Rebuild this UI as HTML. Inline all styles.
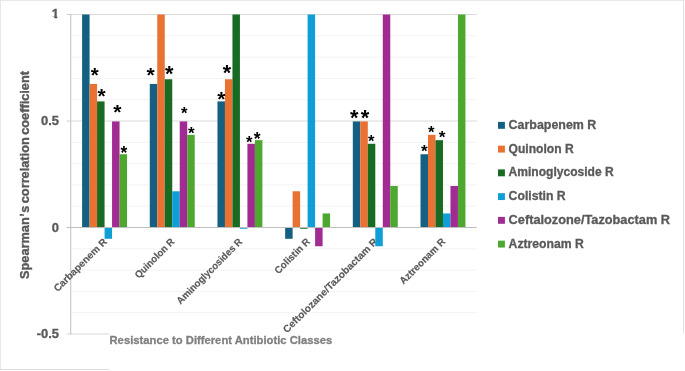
<!DOCTYPE html>
<html lang="en"><head><meta charset="utf-8"><title>Spearman correlation chart</title>
<style>html,body{margin:0;padding:0;background:#fff}body{width:685px;height:371px;overflow:hidden}svg{display:block}text{font-family:"Liberation Sans",Arial,Helvetica,sans-serif;font-weight:bold}</style>
</head><body>
<svg width="685" height="371" viewBox="0 0 685 371">
<rect x="0" y="0" width="685" height="371" fill="#fff"/>
<rect x="0" y="0" width="684" height="1" fill="#e8e8e8"/><rect x="0" y="0" width="1" height="370" fill="#e8e8e8"/><rect x="0" y="369" width="109.5" height="1" fill="#dddddd"/><rect x="683" y="0" width="1" height="333" fill="#e0e0e0"/>
<g>
<line x1="70.7" x2="476.8" y1="35.80" y2="35.80" stroke="#f3f3f3" stroke-width="1"/>
<line x1="70.7" x2="476.8" y1="57.10" y2="57.10" stroke="#f3f3f3" stroke-width="1"/>
<line x1="70.7" x2="476.8" y1="78.40" y2="78.40" stroke="#f3f3f3" stroke-width="1"/>
<line x1="70.7" x2="476.8" y1="99.70" y2="99.70" stroke="#f3f3f3" stroke-width="1"/>
<line x1="70.7" x2="476.8" y1="142.30" y2="142.30" stroke="#f3f3f3" stroke-width="1"/>
<line x1="70.7" x2="476.8" y1="163.60" y2="163.60" stroke="#f3f3f3" stroke-width="1"/>
<line x1="70.7" x2="476.8" y1="184.90" y2="184.90" stroke="#f3f3f3" stroke-width="1"/>
<line x1="70.7" x2="476.8" y1="206.20" y2="206.20" stroke="#f3f3f3" stroke-width="1"/>
<line x1="70.7" x2="476.8" y1="248.80" y2="248.80" stroke="#f3f3f3" stroke-width="1"/>
<line x1="70.7" x2="476.8" y1="270.10" y2="270.10" stroke="#f3f3f3" stroke-width="1"/>
<line x1="70.7" x2="476.8" y1="291.40" y2="291.40" stroke="#f3f3f3" stroke-width="1"/>
<line x1="70.7" x2="476.8" y1="312.70" y2="312.70" stroke="#f3f3f3" stroke-width="1"/>
<line x1="70.7" x2="476.8" y1="14.50" y2="14.50" stroke="#dadada" stroke-width="1"/>
<line x1="66.7" x2="70.7" y1="14.50" y2="14.50" stroke="#d2d2d2" stroke-width="1"/>
<line x1="70.7" x2="476.8" y1="121.00" y2="121.00" stroke="#dadada" stroke-width="1"/>
<line x1="66.7" x2="70.7" y1="121.00" y2="121.00" stroke="#d2d2d2" stroke-width="1"/>
<line x1="70.7" x2="476.8" y1="334.00" y2="334.00" stroke="#dadada" stroke-width="1"/>
<line x1="66.7" x2="70.7" y1="334.00" y2="334.00" stroke="#d2d2d2" stroke-width="1"/>
</g>
<line x1="70.7" x2="70.7" y1="14.00" y2="334.50" stroke="#c8c8c8" stroke-width="1.15"/>
<text transform="translate(107.54 242.40) rotate(-45) scale(1.0 1)" text-anchor="end" font-size="10.0" fill="#595959" stroke="#595959" stroke-width="0.15">Carbapenem R</text>
<text transform="translate(175.22 242.40) rotate(-45) scale(0.96 1)" text-anchor="end" font-size="10.0" fill="#595959" stroke="#595959" stroke-width="0.15">Quinolon R</text>
<text transform="translate(242.90 242.40) rotate(-45) scale(0.95 1)" text-anchor="end" font-size="10.0" fill="#595959" stroke="#595959" stroke-width="0.15">Aminoglycosides R</text>
<text transform="translate(310.58 242.40) rotate(-45) scale(0.97 1)" text-anchor="end" font-size="10.0" fill="#595959" stroke="#595959" stroke-width="0.15">Colistin R</text>
<text transform="translate(378.26 242.40) rotate(-45) scale(1.02 1)" text-anchor="end" font-size="10.0" fill="#595959" stroke="#595959" stroke-width="0.15">Ceftolozane/Tazobactam R</text>
<text transform="translate(445.94 242.40) rotate(-45) scale(0.975 1)" text-anchor="end" font-size="10.0" fill="#595959" stroke="#595959" stroke-width="0.15">Aztreonam R</text>
<g shape-rendering="auto">
<rect x="82.10" y="14.50" width="7.49" height="213.00" fill="#156082"/>
<rect x="89.59" y="83.94" width="7.49" height="143.56" fill="#E97132"/>
<rect x="97.08" y="101.40" width="7.49" height="126.10" fill="#196B24"/>
<rect x="104.57" y="227.50" width="7.49" height="11.29" fill="#0F9ED5"/>
<rect x="112.06" y="121.43" width="7.49" height="106.07" fill="#A02B93"/>
<rect x="119.55" y="154.23" width="7.49" height="73.27" fill="#4EA72E"/>
<rect x="149.78" y="83.94" width="7.49" height="143.56" fill="#156082"/>
<rect x="157.27" y="14.50" width="7.49" height="213.00" fill="#E97132"/>
<rect x="164.76" y="79.25" width="7.49" height="148.25" fill="#196B24"/>
<rect x="172.25" y="191.29" width="7.49" height="36.21" fill="#0F9ED5"/>
<rect x="179.74" y="121.43" width="7.49" height="106.07" fill="#A02B93"/>
<rect x="187.23" y="134.84" width="7.49" height="92.66" fill="#4EA72E"/>
<rect x="217.46" y="101.40" width="7.49" height="126.10" fill="#156082"/>
<rect x="224.95" y="79.25" width="7.49" height="148.25" fill="#E97132"/>
<rect x="232.44" y="14.50" width="7.49" height="213.00" fill="#196B24"/>
<rect x="239.93" y="227.50" width="7.49" height="1.28" fill="#0F9ED5"/>
<rect x="247.42" y="143.79" width="7.49" height="83.71" fill="#A02B93"/>
<rect x="254.91" y="140.17" width="7.49" height="87.33" fill="#4EA72E"/>
<rect x="285.14" y="227.50" width="7.49" height="11.29" fill="#156082"/>
<rect x="292.63" y="191.29" width="7.49" height="36.21" fill="#E97132"/>
<rect x="300.12" y="227.50" width="7.49" height="1.28" fill="#196B24"/>
<rect x="307.61" y="14.50" width="7.49" height="213.00" fill="#0F9ED5"/>
<rect x="315.10" y="227.50" width="7.49" height="18.74" fill="#A02B93"/>
<rect x="322.59" y="213.44" width="7.49" height="14.06" fill="#4EA72E"/>
<rect x="352.82" y="121.43" width="7.49" height="106.07" fill="#156082"/>
<rect x="360.31" y="121.43" width="7.49" height="106.07" fill="#E97132"/>
<rect x="367.80" y="143.79" width="7.49" height="83.71" fill="#196B24"/>
<rect x="375.29" y="227.50" width="7.49" height="18.74" fill="#0F9ED5"/>
<rect x="382.78" y="14.50" width="7.49" height="213.00" fill="#A02B93"/>
<rect x="390.27" y="185.96" width="7.49" height="41.54" fill="#4EA72E"/>
<rect x="420.50" y="154.23" width="7.49" height="73.27" fill="#156082"/>
<rect x="427.99" y="134.84" width="7.49" height="92.66" fill="#E97132"/>
<rect x="435.48" y="140.17" width="7.49" height="87.33" fill="#196B24"/>
<rect x="442.97" y="213.44" width="7.49" height="14.06" fill="#0F9ED5"/>
<rect x="450.46" y="185.96" width="7.49" height="41.54" fill="#A02B93"/>
<rect x="457.95" y="14.50" width="7.49" height="213.00" fill="#4EA72E"/>
</g>
<line x1="66.7" x2="476.8" y1="227.50" y2="227.50" stroke="#bfbfbf" stroke-width="1"/>
<rect x="109.5" y="333" width="576" height="38" fill="#fff"/>
<defs><clipPath id="one"><path d="M46 4H57.3V23H54.3V16.8H46Z"/></clipPath></defs>
<g clip-path="url(#one)"><text transform="translate(59.0 18.45) scale(1.07 1)" text-anchor="end" font-size="12.1" fill="#595959" stroke="#595959" stroke-width="0.3">1</text></g>
<g><text transform="translate(59.0 124.95) scale(1.07 1)" text-anchor="end" font-size="12.1" fill="#595959" stroke="#595959" stroke-width="0.3">0.5</text></g>
<g><text transform="translate(59.0 231.90) scale(1.07 1)" text-anchor="end" font-size="12.1" fill="#595959" stroke="#595959" stroke-width="0.3">0</text></g>
<g><text transform="translate(59.0 337.95) scale(1.07 1)" text-anchor="end" font-size="12.1" fill="#595959" stroke="#595959" stroke-width="0.3">-0.5</text></g>
<text transform="translate(29.2 175.0) rotate(-90) scale(1.03 1)" text-anchor="middle" font-size="12.4" fill="#595959" stroke="#595959" stroke-width="0.38" style="word-spacing:-1.1px">Spearman<tspan dx="0.5">’</tspan><tspan dx="0.4">s</tspan> correlation coefficient</text>
<text x="109.5" y="344.0" font-size="11.2" textLength="222.7" lengthAdjust="spacingAndGlyphs" fill="#7f7f7f" stroke="#7f7f7f" stroke-width="0.3">Resistance to Different Antibiotic Classes</text>
<rect x="498.0" y="121.90" width="6.9" height="6.9" fill="#156082"/>
<text x="508.6" y="128.90" font-size="11.9" textLength="87.7" lengthAdjust="spacingAndGlyphs" fill="#595959" stroke="#595959" stroke-width="0.3">Carbapenem R</text>
<rect x="498.0" y="145.65" width="6.9" height="6.9" fill="#E97132"/>
<text x="508.6" y="152.65" font-size="11.9" textLength="65.1" lengthAdjust="spacingAndGlyphs" fill="#595959" stroke="#595959" stroke-width="0.3">Quinolon R</text>
<rect x="498.0" y="169.40" width="6.9" height="6.9" fill="#196B24"/>
<text x="508.6" y="176.40" font-size="11.9" textLength="105.1" lengthAdjust="spacingAndGlyphs" fill="#595959" stroke="#595959" stroke-width="0.3">Aminoglycoside R</text>
<rect x="498.0" y="193.15" width="6.9" height="6.9" fill="#0F9ED5"/>
<text x="508.6" y="200.15" font-size="11.9" textLength="57.1" lengthAdjust="spacingAndGlyphs" fill="#595959" stroke="#595959" stroke-width="0.3">Colistin R</text>
<rect x="498.0" y="216.90" width="6.9" height="6.9" fill="#A02B93"/>
<text x="508.6" y="223.90" font-size="11.9" textLength="161.4" lengthAdjust="spacingAndGlyphs" fill="#595959" stroke="#595959" stroke-width="0.3">Ceftalozone/Tazobactam R</text>
<rect x="498.0" y="240.65" width="6.9" height="6.9" fill="#4EA72E"/>
<text x="508.6" y="247.65" font-size="11.9" textLength="75.1" lengthAdjust="spacingAndGlyphs" fill="#595959" stroke="#595959" stroke-width="0.3">Aztreonam R</text>
<text x="90.64" y="82.28" font-size="20.42" fill="#000">*</text>
<text x="97.54" y="103.10" font-size="20.85" fill="#000">*</text>
<text x="113.13" y="118.94" font-size="21.13" fill="#000">*</text>
<text x="120.49" y="159.21" font-size="17.46" fill="#000">*</text>
<text x="146.53" y="81.74" font-size="21.13" fill="#000">*</text>
<text x="165.12" y="80.93" font-size="21.69" fill="#000">*</text>
<text x="180.91" y="118.53" font-size="16.76" fill="#000">*</text>
<text x="188.10" y="138.72" font-size="17.04" fill="#000">*</text>
<text x="217.33" y="106.19" font-size="21.13" fill="#000">*</text>
<text x="222.87" y="79.93" font-size="21.55" fill="#000">*</text>
<text x="246.11" y="148.21" font-size="16.62" fill="#000">*</text>
<text x="253.79" y="144.71" font-size="17.46" fill="#000">*</text>
<text x="350.02" y="124.93" font-size="21.69" fill="#000">*</text>
<text x="360.82" y="125.07" font-size="21.97" fill="#000">*</text>
<text x="367.96" y="146.71" font-size="16.48" fill="#000">*</text>
<text x="421.00" y="156.57" font-size="17.18" fill="#000">*</text>
<text x="427.96" y="138.46" font-size="16.76" fill="#000">*</text>
<text x="438.75" y="142.77" font-size="17.32" fill="#000">*</text>
</svg>
</body></html>
